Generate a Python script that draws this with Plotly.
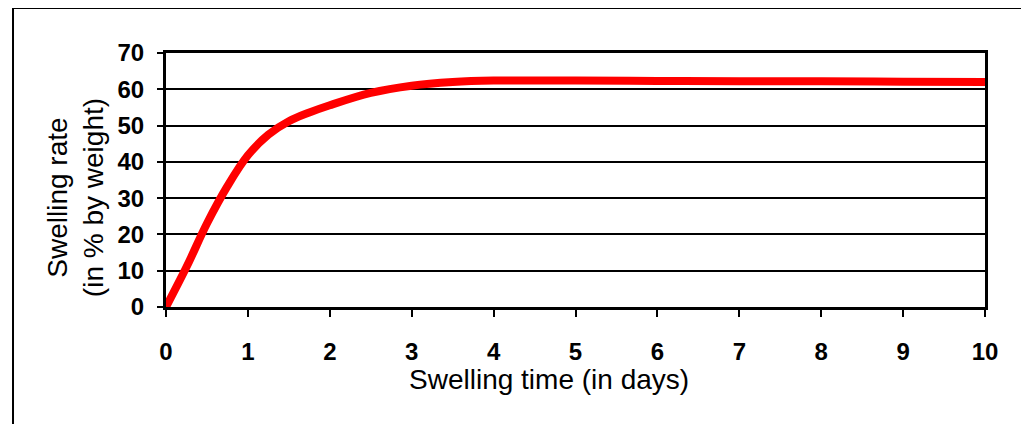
import plotly.graph_objects as go

days = [0, 0.25, 0.5, 0.75, 1, 1.25, 1.5, 1.75, 2, 2.5, 3, 3.5, 4, 5, 6, 7, 8, 9, 10]
swelling = [0, 11, 23, 33.3, 41.8, 47.5, 51.2, 53.6, 55.6, 59, 61, 62, 62.4, 62.4, 62.3, 62.2, 62.2, 62.1, 62]

x_ticks = list(range(0, 11))
y_ticks = list(range(0, 71, 10))

fig = go.Figure()
fig.add_trace(go.Scatter(
    x=days, y=swelling, mode="lines",
    line=dict(color="#ff0000", width=8, shape="spline", smoothing=1),
    cliponaxis=False, showlegend=False,
))

font_family = "Arial, Liberation Sans, sans-serif"
fig.update_layout(
    width=1021, height=416,
    margin=dict(l=158, r=44, t=45, b=117),
    paper_bgcolor="white", plot_bgcolor="white",
    font=dict(family=font_family, color="black"),
    xaxis=dict(
        range=[0, 10], tickvals=x_ticks, ticktext=[str(v) for v in x_ticks],
        showgrid=False, zeroline=False,
        showline=True, linecolor="black", linewidth=3, mirror=True,
        ticks="outside", ticklen=7, tickwidth=2, tickcolor="black",
        tickfont=dict(size=24, family=font_family, weight="bold"),
        ticklabelstandoff=14,
    ),
    yaxis=dict(
        range=[0, 70], tickvals=y_ticks, ticktext=[str(v) for v in y_ticks],
        showgrid=True, gridcolor="black", gridwidth=2, zeroline=False,
        showline=True, linecolor="black", linewidth=3, mirror=True,
        ticks="outside", ticklen=6, tickwidth=2, tickcolor="black",
        tickfont=dict(size=24, family=font_family, weight="bold"),
        ticklabelstandoff=8,
    ),
    annotations=[
        dict(text="Swelling time (in days)", xref="paper", yref="paper",
             x=0.468, y=-0.287, showarrow=False, xanchor="center", yanchor="middle",
             font=dict(size=28, family=font_family, color="black")),
        dict(text="Swelling rate<br>(in % by weight)", xref="paper", yref="paper",
             x=-0.111, y=0.429, showarrow=False, xanchor="center", yanchor="middle",
             textangle=-90,
             font=dict(size=28, family=font_family, color="black")),
    ],
    shapes=[
        dict(type="path", xref="paper", yref="paper",
             path="M -0.1868,-0.6 L -0.1868,1.177 L 1.050,1.177 L 1.050,-0.6",
             line=dict(color="black", width=2)),
    ],
)

fig.write_html("out.html")
